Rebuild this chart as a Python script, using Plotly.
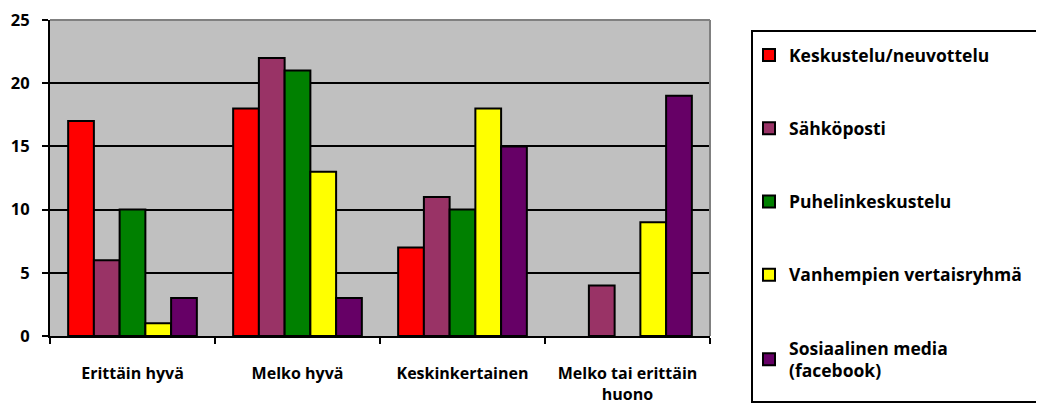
import plotly.graph_objects as go

categories = ["Erittäin hyvä", "Melko hyvä", "Keskinkertainen", "Melko tai erittäin<br>huono"]
series_names = ["Keskustelu/neuvottelu", "Sähköposti", "Puhelinkeskustelu",
                "Vanhempien vertaisryhmä", "Sosiaalinen media<br>(facebook)"]
keskustelu = [17, 18, 7, None]
sahkoposti = [6, 22, 11, 4]
puhelin = [10, 21, 10, None]
vertais = [1, 13, 18, 9]
some = [3, 3, 15, 19]
colors = ["#FF0000", "#993366", "#008000", "#FFFF00", "#660066"]
y_ticks = [0, 5, 10, 15, 20, 25]

FONT = "Open Sans"
# page body has an 8px margin; figure coordinates are offset accordingly
L, T, PW, PH = 42, 12, 660, 316
W, H = 1044, 407

fig = go.Figure()
for i, (name, vals) in enumerate(zip(series_names, [keskustelu, sahkoposti, puhelin, vertais, some])):
    fig.add_trace(go.Bar(
        x=categories, y=vals, name=name,
        marker=dict(color=colors[i], line=dict(color="black", width=2)),
        legendgroup=f"g{i}",
    ))

def px(xs):
    return (xs - 8 - L) / PW

def py(ys):
    return (T + PH - (ys - 8)) / PH

fig.update_layout(
    width=W, height=H,
    margin=dict(l=L, r=W - L - PW, t=T, b=H - T - PH, autoexpand=False),
    paper_bgcolor="white", plot_bgcolor="#C0C0C0",
    barmode="group", bargap=0.22, bargroupgap=0,
    font=dict(family=FONT, size=14, color="black"),
    showlegend=True,
    legend=dict(
        x=px(749), y=py(37), xanchor="left", yanchor="top",
        traceorder="grouped", tracegroupgap=47.5,
        font=dict(family=FONT, size=17.5, color="black", weight="bold"),
        bgcolor="rgba(0,0,0,0)", itemwidth=30, maxheight=420,
    ),
    shapes=[
        dict(type="rect", xref="paper", yref="paper",
             x0=px(752), x1=px(1042), y0=py(402), y1=py(31),
             line=dict(color="black", width=2), fillcolor="rgba(0,0,0,0)"),
        dict(type="line", xref="paper", yref="paper", x0=0, x1=1, y0=1, y1=1,
             line=dict(color="#808080", width=2)),
        dict(type="line", xref="paper", yref="paper", x0=1, x1=1, y0=0, y1=1,
             line=dict(color="#808080", width=2)),
    ],
)
fig.update_xaxes(
    automargin=False,
    showline=True, linecolor="black", linewidth=2,
    ticks="outside", tickson="boundaries", ticklen=6, tickwidth=2, tickcolor="black",
    tickfont=dict(family=FONT, size=16, color="black", weight="bold"),
    ticklabelstandoff=22,
    showgrid=False,
)
fig.update_yaxes(
    automargin=False,
    range=[0, 25], tickvals=y_ticks, showline=True, linecolor="black", linewidth=2,
    ticks="outside", ticklen=6, tickwidth=2, tickcolor="black",
    tickfont=dict(family=FONT, size=16.5, color="black", weight="bold"),
    ticklabelstandoff=9, ticklabeloverflow="allow",
    showgrid=True, gridcolor="black", gridwidth=2, zeroline=False,
)
fig.write_html("out.html")
